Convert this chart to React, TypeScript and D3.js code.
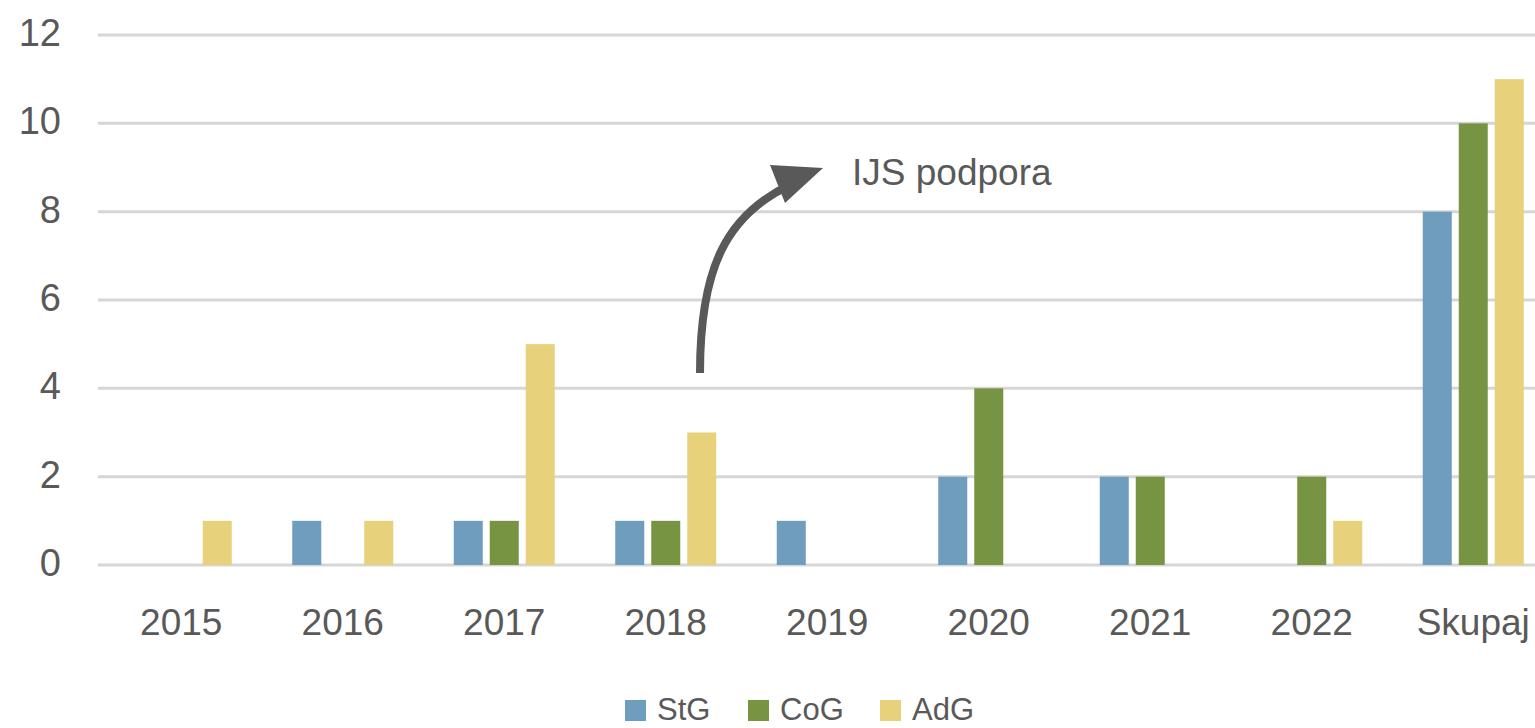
import React, { useEffect, useRef } from 'react';
import * as d3 from 'd3';

const categories = ['2015', '2016', '2017', '2018', '2019', '2020', '2021', '2022', 'Skupaj'];
const seriesNames = ['StG', 'CoG', 'AdG'];
const stgValues = [0, 1, 1, 1, 1, 2, 2, 0, 8];
const cogValues = [0, 0, 1, 1, 0, 4, 2, 2, 10];
const adgValues = [1, 1, 5, 3, 0, 0, 0, 1, 11];
const yTicks = [0, 2, 4, 6, 8, 10, 12];
const colors = ['#6f9dbe', '#779442', '#e8d17b'];

const FONT = 'Liberation Sans, Arial, sans-serif';

const App: React.FC = () => {
    const chartRef = useRef<SVGSVGElement | null>(null);

    useEffect(() => {
        if (!chartRef.current) return;

        const width = 1535;
        const height = 728;

        const svg = d3.select(chartRef.current)
            .attr('width', width)
            .attr('height', height)
            .attr('viewBox', `0 0 ${width} ${height}`);

        svg.selectAll('*').remove();

        const values = [stgValues, cogValues, adgValues];

        const x0 = d3.scaleBand<string>()
            .domain(categories)
            .range([100.5, 100.5 + 161.5 * categories.length])
            .padding(0);

        const x1 = d3.scaleBand<string>()
            .domain(seriesNames)
            .range([0, 101])
            .paddingInner(0.194)
            .paddingOuter(0);

        const y = d3.scaleLinear()
            .domain([0, 12])
            .range([565, 35]);

        // gridlines
        svg.append('g')
            .selectAll('line')
            .data(yTicks)
            .join('line')
            .attr('x1', 98)
            .attr('x2', width)
            .attr('y1', d => y(d))
            .attr('y2', d => y(d))
            .attr('stroke', '#d6d6d6')
            .attr('stroke-width', 3);

        // y tick labels
        svg.append('g')
            .selectAll('text')
            .data(yTicks)
            .join('text')
            .attr('x', 61)
            .attr('y', d => y(d) + 11)
            .attr('text-anchor', 'end')
            .attr('fill', '#595959')
            .attr('font-size', '38px')
            .attr('font-family', FONT)
            .text(d => d);

        // bars
        const offset = (x0.bandwidth() - 101) / 2;
        seriesNames.forEach((s, si) => {
            svg.append('g')
                .selectAll('rect')
                .data(categories.map((c, i) => ({ c, v: values[si][i] })).filter(d => d.v > 0))
                .join('rect')
                .attr('x', d => (x0(d.c) ?? 0) + offset + (x1(s) ?? 0))
                .attr('width', x1.bandwidth())
                .attr('y', d => y(d.v))
                .attr('height', d => y(0) - y(d.v))
                .attr('fill', colors[si]);
        });

        // x labels
        svg.append('g')
            .selectAll('text')
            .data(categories)
            .join('text')
            .attr('x', d => (x0(d) ?? 0) + x0.bandwidth() / 2)
            .attr('y', 635)
            .attr('text-anchor', 'middle')
            .attr('fill', '#595959')
            .attr('font-size', '37px')
            .attr('font-family', FONT)
            .text(d => d);

        // annotation arrow
        svg.append('path')
            .attr('d', 'M700,373 C700,270 725,215 792,184')
            .attr('fill', 'none')
            .attr('stroke', '#595959')
            .attr('stroke-width', 8);
        svg.append('polygon')
            .attr('points', '770,165 823,168 785,203')
            .attr('fill', '#595959');
        svg.append('text')
            .attr('x', 852)
            .attr('y', 185)
            .attr('fill', '#595959')
            .attr('font-size', '37px')
            .attr('font-family', FONT)
            .text('IJS podpora');

        // legend
        const legendX = [625, 748, 880];
        const legend = svg.append('g');
        seriesNames.forEach((s, i) => {
            legend.append('rect')
                .attr('x', legendX[i])
                .attr('y', 700)
                .attr('width', 21)
                .attr('height', 21)
                .attr('fill', colors[i]);
            legend.append('text')
                .attr('x', legendX[i] + 32)
                .attr('y', 720)
                .attr('fill', '#595959')
                .attr('font-size', '31px')
                .attr('font-family', FONT)
                .text(s);
        });
    }, []);

    return <svg ref={chartRef} style={{ position: 'absolute', left: 0, top: 0, background: '#fff' }}></svg>;
};

export default App;
